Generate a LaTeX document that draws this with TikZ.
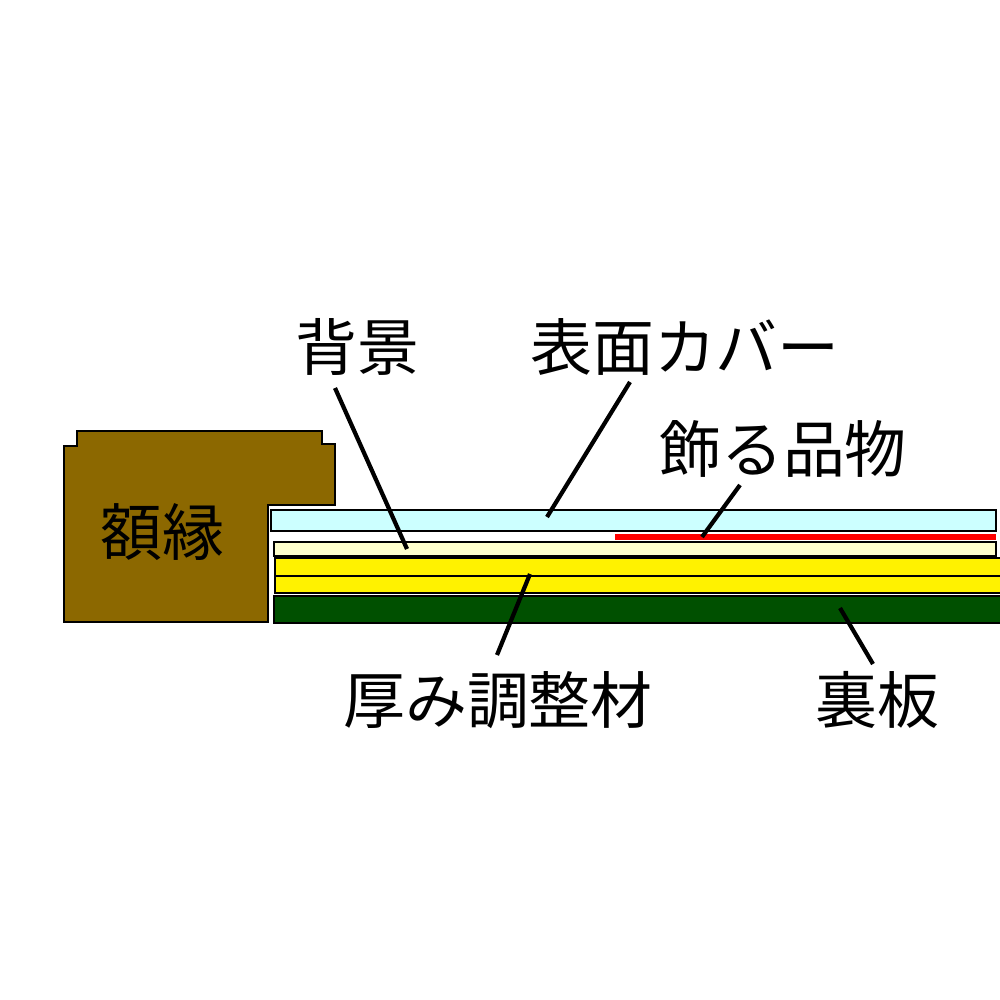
\documentclass[tikz,border=0pt]{standalone}
\usepackage{fontspec}
\newfontfamily\jpfont{Noto Sans CJK JP}
\usetikzlibrary{positioning}

\begin{document}
\begin{tikzpicture}[x=0.01cm,y=-0.01cm,
            layer/.style={draw=black,semithick},
            every node/.style={font=\jpfont\fontsize{17.6}{20}\selectfont, inner sep=0pt},
            lead/.style={line width=1.2pt}
  ]
  \useasboundingbox (0,0) rectangle (1000,1000);

  % frame
  \draw[layer, fill={rgb,255:red,140;green,104;blue,0}]
    (64,446) -- (77,446) -- (77,431) -- (322,431) -- (322,444) -- (335,444)
    -- (335,505) -- (268,505) -- (268,622) -- (64,622) -- cycle;
  \node (frame) at (162,532) {額縁};

  % layers
  \draw[layer, fill={rgb,255:red,204;green,255;blue,255}] (271,510) rectangle (996,531);
  \draw[layer, fill=red, draw=none] (615,534) rectangle (996,540);
  \draw[layer, fill={rgb,255:red,255;green,255;blue,204}] (274,542) rectangle (996,556);
  \draw[layer, fill=yellow] (275,558) rectangle (1002,576);
  \draw[layer, fill=yellow] (275,576) rectangle (1002,593);
  \draw[layer, fill={rgb,255:red,0;green,80;blue,0}] (274,596) rectangle (1002,623);

  % labels
  \node (back) at (357,347) {背景};
  \node (cover) at (685,347) {表面カバー};
  \node (item) at (783,449) {飾る品物};
  \node (spacer) at (498,700) {厚み調整材};
  \node (board) at (877,700) {裏板};

  \coordinate (backend) at (407,549);
  \coordinate (coverend) at (547,517);
  \coordinate (itemend) at (702,537);
  \coordinate (spacerend) at (530,574);
  \coordinate (boardend) at (840,608);

  \draw[lead] (335,388) -- (backend);
  \draw[lead] (630,382) -- (coverend);
  \draw[lead] (740,485) -- (itemend);
  \draw[lead] (497,655) -- (spacerend);
  \draw[lead] (873,664) -- (boardend);
\end{tikzpicture}
\end{document}
